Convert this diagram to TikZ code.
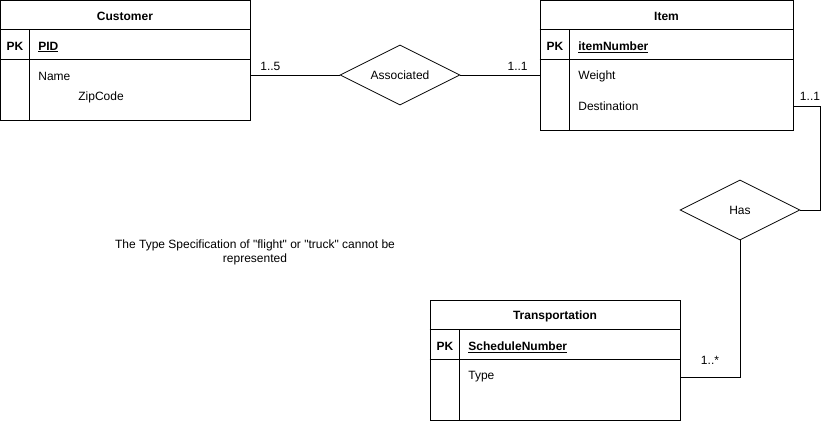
\documentclass[tikz,border=0pt]{standalone}
\usepackage{fontspec}
\setmainfont{Liberation Sans}[Ligatures=TeXOff]
\usetikzlibrary{shapes.geometric}
\begin{document}
\begin{tikzpicture}[x=1pt,y=-1pt,line width=0.8pt,
  every node/.style={font=\fontsize{12}{14}\selectfont,inner sep=0pt},
  entity/.style={draw,rectangle,minimum width=#1},
  rel/.style={draw,diamond,aspect=2,minimum width=120pt,minimum height=60pt},
  hdr/.style={font=\fontsize{12}{14}\selectfont\bfseries,yshift=-1pt},
  attr/.style={anchor=west,yshift=-1pt},
  lbl/.style={font=\fontsize{12}{14}\selectfont}]
\useasboundingbox (0,0) rectangle (831,421);
% Customer
\node[entity=250pt,minimum height=120pt] (cust) at (125,60) {};
\draw ([yshift=-30pt]cust.north west) -- ([yshift=-30pt]cust.north east);
\draw ([yshift=-60pt]cust.north west) -- ([yshift=-60pt]cust.north east);
\draw ([xshift=30pt,yshift=-30pt]cust.north west) -- ([xshift=30pt]cust.south west);
\node[hdr] (custh) at (125,15) {Customer};
\node[hdr] (custpk) at (15,45) {PK};
\node[hdr,attr] (pid) at (38,45) {\underline{PID}};
\node[attr] (name) at (38,75) {Name};
\node[attr] (zip) at (78,96) {ZipCode};
% Item
\node[entity=253pt,minimum height=130pt] (item) at (666.5,65) {};
\draw ([yshift=-30pt]item.north west) -- ([yshift=-30pt]item.north east);
\draw ([yshift=-60pt]item.north west) -- ([yshift=-60pt]item.north east);
\draw ([xshift=30pt,yshift=-30pt]item.north west) -- ([xshift=30pt]item.south west);
\node[hdr] (itemh) at (666.5,15) {Item};
\node[hdr] (itempk) at (555,45) {PK};
\node[hdr,attr] (inum) at (578,45) {\underline{itemNumber}};
\node[attr] (weight) at (578,75) {Weight};
\node[attr] (dest) at (578,105) {Destination};
% Transportation
\node[entity=250pt,minimum height=120pt] (trans) at (555,360) {};
\draw ([yshift=-30pt]trans.north west) -- ([yshift=-30pt]trans.north east);
\draw ([yshift=-60pt]trans.north west) -- ([yshift=-60pt]trans.north east);
\draw ([xshift=30pt,yshift=-30pt]trans.north west) -- ([xshift=30pt]trans.south west);
\node[hdr] (transh) at (555,315) {Transportation};
\node[hdr] (transpk) at (445,345) {PK};
\node[hdr,attr] (sched) at (468,345) {\underline{ScheduleNumber}};
\node[attr] (type) at (468,376) {Type};
% Relationships
\node[rel] (assoc) at (400,75) {Associated};
\node[rel] (has) at (740,210) {Has};
% Connectors
\draw (cust.east |- assoc.west) -- (assoc.west);
\draw (assoc.east) -- (item.west |- assoc.east);
\draw (item.east |- dest) -- ++(27,0) coordinate (c1) |- (has.east);
\draw (has.south) |- (trans.east |- type);
% Labels
\node[lbl,anchor=west] (l1) at (260,66) {1..5};
\node[lbl,anchor=east] (l2) at (528,66) {1..1};
\node[lbl] (l3) at (810,96) {1..1};
\node[lbl] (l4) at (710,360) {1..*};
% Note
\node[align=center,font=\fontsize{12}{14}\selectfont] (note) at (255,252) {The Type Specification of "flight" or "truck" cannot be\\represented};
\end{tikzpicture}
\end{document}
